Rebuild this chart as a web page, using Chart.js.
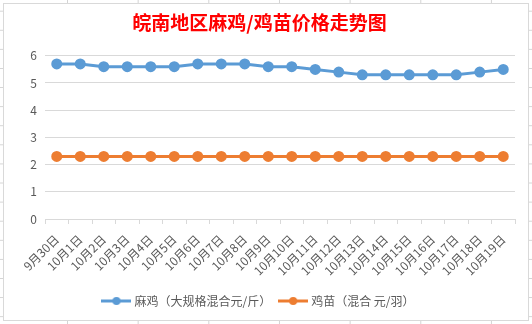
<!DOCTYPE html>
<html>
<head>
<meta charset="utf-8">
<script src="https://cdn.jsdelivr.net/npm/chart.js@4"></script>
<style>
  html, body { margin: 0; padding: 0; }
  body {
    width: 532px; height: 324px; position: relative; overflow: hidden;
    background-color: #fff;
    background-image:
      linear-gradient(to right, #d4d4d4 1px, transparent 1px),
      linear-gradient(to bottom, #d4d4d4 1px, transparent 1px);
    background-size: 70.67px 100%, 100% 19.1px;
    background-position: 67px 0, 0 10.7px;
  }
  #kort {
    position: absolute; left: 3px; top: 3px;
    width: 524px; height: 316px;
    border: 1px solid #d9d9d9; background: #fff;
  }
</style>
</head>
<body>
<div id="kort"><canvas id="graf" width="524" height="316"></canvas></div>
<script>
"use strict";

const datoer = ["9月30日", "10月1日", "10月2日", "10月3日", "10月4日", "10月5日", "10月6日",
  "10月7日", "10月8日", "10月9日", "10月10日", "10月11日", "10月12日", "10月13日",
  "10月14日", "10月15日", "10月16日", "10月17日", "10月18日", "10月19日"];
const maji = [5.7, 5.7, 5.6, 5.6, 5.6, 5.6, 5.7, 5.7, 5.7, 5.6,
  5.6, 5.5, 5.4, 5.3, 5.3, 5.3, 5.3, 5.3, 5.4, 5.5];
const jimiao = [2.3, 2.3, 2.3, 2.3, 2.3, 2.3, 2.3, 2.3, 2.3, 2.3,
  2.3, 2.3, 2.3, 2.3, 2.3, 2.3, 2.3, 2.3, 2.3, 2.3];
const yTicks = [0, 1, 2, 3, 4, 5, 6];

const BLAA = "#5b9bd5";
const ORANGE = "#ed7d31";
const TEKST = "#595959";
const GITTER = "#d9d9d9";
const FONT = "'Noto Sans CJK SC', 'Noto Sans', sans-serif";

// little line-with-dot symbol for the legend
function legendeSymbol(farve) {
  const c = document.createElement("canvas");
  c.width = 30; c.height = 10;
  const ctx = c.getContext("2d");
  ctx.strokeStyle = farve; ctx.lineWidth = 3;
  ctx.beginPath(); ctx.moveTo(0, 5); ctx.lineTo(30, 5); ctx.stroke();
  ctx.fillStyle = farve;
  ctx.beginPath(); ctx.arc(15, 5, 4, 0, Math.PI * 2); ctx.fill();
  return c;
}

new Chart(document.getElementById("graf").getContext("2d"), {
  type: "line",
  data: {
    labels: datoer,
    datasets: [
      { label: "麻鸡（大规格混合元/斤）", data: maji, borderColor: BLAA, backgroundColor: BLAA,
        borderWidth: 3, pointRadius: 4, pointHoverRadius: 4, pointStyle: "circle",
        legendSymbol: legendeSymbol(BLAA) },
      { label: "鸡苗（混合 元/羽）", data: jimiao, borderColor: ORANGE, backgroundColor: ORANGE,
        borderWidth: 3, pointRadius: 4, pointHoverRadius: 4, pointStyle: "circle",
        legendSymbol: legendeSymbol(ORANGE) }
    ]
  },
  options: {
    responsive: false,
    animation: false,
    layout: { padding: { left: 0, right: 13, top: 0, bottom: 3 } },
    plugins: {
      title: {
        display: true,
        text: "皖南地区麻鸡/鸡苗价格走势图",
        color: "#ff0000",
        font: { family: FONT, size: 19, weight: "bold" },
        padding: { top: 7, bottom: 22 }
      },
      legend: {
        position: "bottom",
        labels: {
          usePointStyle: true,
          pointStyleWidth: 24,
          boxHeight: 10,
          padding: 10,
          color: TEKST,
          font: { family: FONT, size: 12 },
          generateLabels(chart) {
            return chart.data.datasets.map((ds, i) => ({
              text: ds.label,
              pointStyle: ds.legendSymbol,
              fillStyle: ds.borderColor,
              strokeStyle: ds.borderColor,
              fontColor: TEKST,
              lineWidth: 0,
              hidden: false,
              datasetIndex: i
            }));
          }
        }
      },
      tooltip: { enabled: false }
    },
    scales: {
      x: {
        offset: true,
        grid: { drawOnChartArea: false, offset: true, tickLength: 5, color: GITTER },
        border: { color: GITTER },
        ticks: {
          autoSkip: false, minRotation: 45, maxRotation: 45,
          color: TEKST, font: { family: FONT, size: 12 }, padding: 8
        },
        afterFit(scale) { scale.height = 66; }
      },
      y: {
        min: 0, max: 6,
        afterBuildTicks(scale) { scale.ticks = yTicks.map(v => ({ value: v })); },
        grid: { color: GITTER, drawTicks: false },
        border: { display: false },
        ticks: { color: TEKST, font: { family: FONT, size: 12 }, padding: 8 },
        afterFit(scale) { scale.width = 41; }
      }
    }
  }
});
</script>
</body>
</html>
